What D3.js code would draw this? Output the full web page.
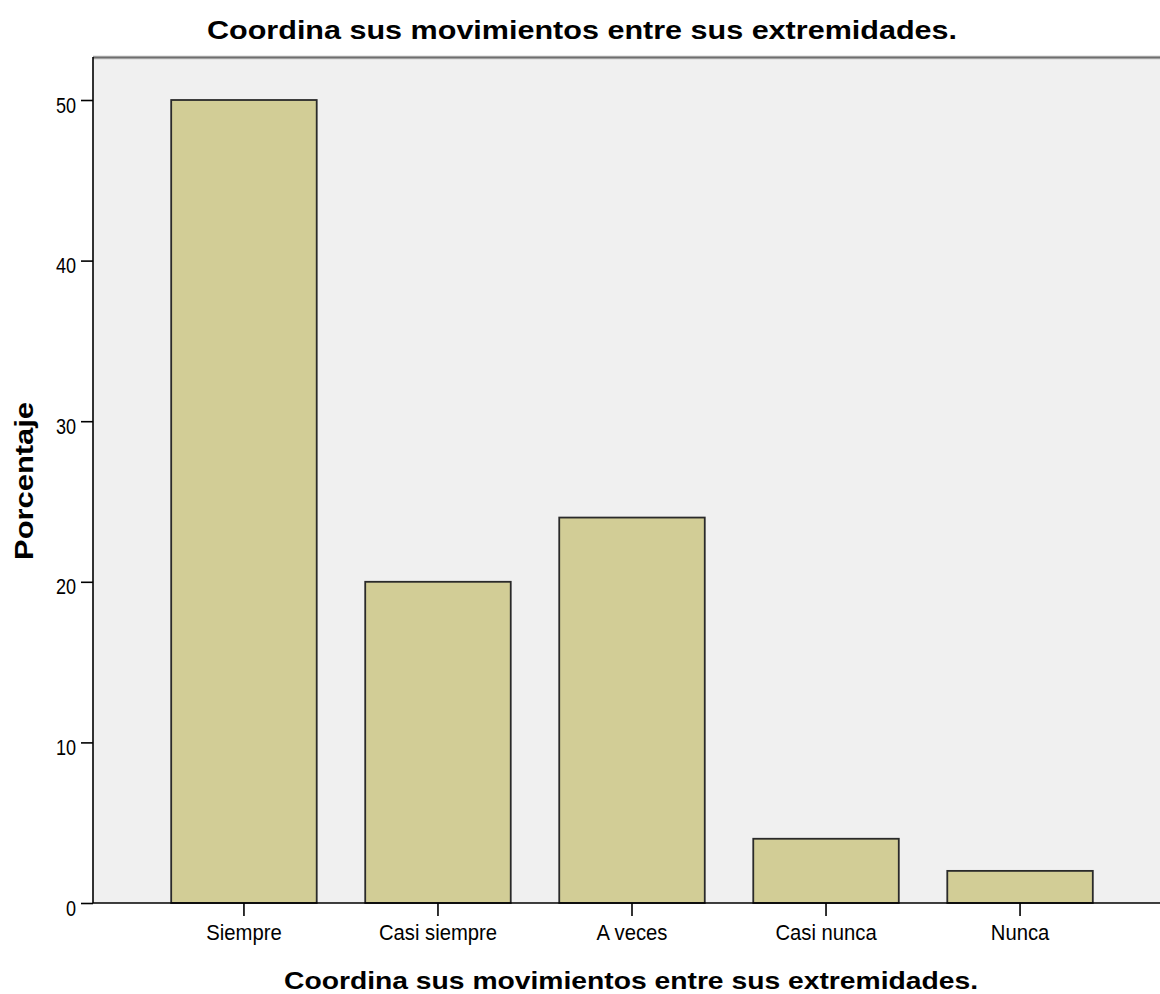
<!DOCTYPE html>
<html>
<head>
<meta charset="utf-8">
<script src="https://cdn.jsdelivr.net/npm/d3@7"></script>
<style>
  html, body { margin: 0; padding: 0; background: #ffffff; }
  svg { display: block; }
  text { font-family: "Liberation Sans", Arial, sans-serif; fill: #000; }
</style>
</head>
<body>
<svg id="chart" width="1160" height="994"></svg>
<script>
// ---- data ----
const categories = ["Siempre", "Casi siempre", "A veces", "Casi nunca", "Nunca"];
const percentages = [50, 20, 24, 4, 2];
const yTicks = [0, 10, 20, 30, 40, 50];
const chartTitle = "Coordina sus movimientos entre sus extremidades.";
const xAxisTitle = "Coordina sus movimientos entre sus extremidades.";
const yAxisTitle = "Porcentaje";

// ---- layout ----
const W = 1160, H = 994;
const plot = { left: 93, top: 57, right: 1171, bottom: 903 };

const svg = d3.select("#chart");

// fit text to a target width
function fit(sel, width) {
  sel.attr("textLength", width).attr("lengthAdjust", "spacingAndGlyphs");
}
function squeeze(sel, ratio) {
  sel.each(function () {
    const w = this.getComputedTextLength();
    d3.select(this).attr("textLength", w * ratio).attr("lengthAdjust", "spacingAndGlyphs");
  });
}

const x = d3.scaleBand()
  .domain(categories)
  .range([plot.left, plot.right])
  .paddingInner(0.25)
  .paddingOuter(0.403);

const y = d3.scaleLinear()
  .domain([0, 50])
  .range([plot.bottom, 100]);

// plot background
svg.append("rect")
  .attr("x", plot.left).attr("y", plot.top)
  .attr("width", plot.right - plot.left).attr("height", plot.bottom - plot.top)
  .attr("fill", "#f0f0f0");

// top border (grey)
svg.append("line")
  .attr("x1", plot.left).attr("x2", W)
  .attr("y1", plot.top + 0.5).attr("y2", plot.top + 0.5)
  .attr("stroke", "#b0b0b0").attr("stroke-width", 3.5);
svg.append("line")
  .attr("x1", plot.left).attr("x2", W)
  .attr("y1", plot.top + 0.5).attr("y2", plot.top + 0.5)
  .attr("stroke", "#6e6e6e").attr("stroke-width", 1.6);

// bars
svg.append("g")
  .selectAll("rect")
  .data(categories.map((c, i) => ({ c, v: percentages[i] })))
  .join("rect")
  .attr("x", d => x(d.c))
  .attr("y", d => y(d.v))
  .attr("width", x.bandwidth())
  .attr("height", d => y(0) - y(d.v))
  .attr("fill", "#d2cd96")
  .attr("stroke", "#2a2a2a")
  .attr("stroke-width", 1.8);

// y axis
const yAxis = svg.append("g")
  .attr("transform", `translate(${plot.left},0)`)
  .call(d3.axisLeft(y).tickValues(yTicks).tickSize(12).tickPadding(5).tickFormat(d3.format("d")));
yAxis.select(".domain").attr("stroke", "#000").attr("stroke-width", 1.6)
  .attr("d", `M0,${plot.top}V${plot.bottom}`);
yAxis.selectAll(".tick line").attr("stroke", "#000").attr("stroke-width", 1.6);
yAxis.selectAll(".tick text")
  .attr("font-family", "Liberation Sans, Arial, sans-serif")
  .attr("font-size", 22)
  .attr("fill", "#111")
  .attr("x", -17)
  .attr("dy", 0)
  .attr("y", 12);
yAxis.selectAll(".tick text").call(squeeze, 0.82);

// x axis
const xAxis = svg.append("g")
  .attr("transform", `translate(0,${plot.bottom})`)
  .call(d3.axisBottom(x).tickSize(13).tickPadding(6));
xAxis.select(".domain").attr("stroke", "#000").attr("stroke-width", 1.6)
  .attr("d", `M${plot.left},0H${plot.right}`);
xAxis.selectAll(".tick line").attr("stroke", "#000").attr("stroke-width", 1.6);
xAxis.selectAll(".tick text")
  .attr("font-family", "Liberation Sans, Arial, sans-serif")
  .attr("font-size", 22)
  .attr("fill", "#111")
  .attr("dy", 0)
  .attr("y", 36.5);
xAxis.selectAll(".tick text").call(squeeze, 0.92);

// chart title
svg.append("text")
  .attr("x", 582).attr("y", 39)
  .attr("text-anchor", "middle")
  .attr("font-weight", "bold")
  .attr("font-size", 26.5)
  .text(chartTitle)
  .call(fit, 750);

// x axis title
svg.append("text")
  .attr("x", 631).attr("y", 988.5)
  .attr("text-anchor", "middle")
  .attr("font-weight", "bold")
  .attr("font-size", 24.5)
  .text(xAxisTitle)
  .call(fit, 694);

// y axis title
svg.append("text")
  .attr("transform", "translate(32.5,481) rotate(-90)")
  .attr("text-anchor", "middle")
  .attr("font-weight", "bold")
  .attr("font-size", 26)
  .text(yAxisTitle)
  .call(fit, 158);
</script>
</body>
</html>
